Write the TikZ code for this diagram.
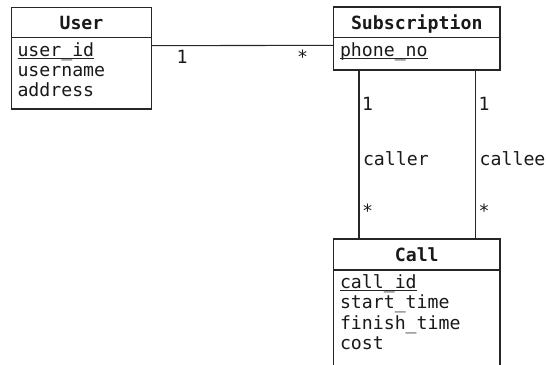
\documentclass[tikz,border=0pt]{standalone}
\usepackage{fontspec}
\setmainfont{DejaVu Sans Mono}
\setmonofont{DejaVu Sans Mono}
\begin{document}
\begin{tikzpicture}[x=1pt,y=-1pt,
  every node/.style={inner sep=0pt, outer sep=0pt, font=\fontsize{18.2}{20}\selectfont, text=black!90},
  entity/.style={draw=black!85, line width=1.1pt, anchor=north west, minimum width=166.5pt},
  title/.style={anchor=base, font=\fontsize{18.2}{20}\selectfont\bfseries},
  attr/.style={anchor=base west},
  mult/.style={anchor=base west},
  link/.style={draw=black!85, line width=1.1pt},
  keyline/.style={draw=black!85, line width=0.9pt}]
  \useasboundingbox (0,0) rectangle (546,364);
  \clip (0,0) rectangle (546,364);

  % User entity
  \node[entity, minimum width=140pt, minimum height=101.5pt] (user) at (11.5,7.5) {};
  \draw[link] ([yshift=-30.2pt]user.north west) -- ([yshift=-30.2pt]user.north east);
  \node[title] (userT) at (81.5,29.3) {User};
  \node[attr] (uid) at (17.5,56.7) {user\_id};
  \node[attr] (uname) at (17.5,76.7) {username};
  \node[attr] (uaddr) at (17.5,96.7) {address};
  \draw[keyline] ([yshift=-1.8pt]uid.base west) -- ([yshift=-1.8pt]uid.base east);

  % Subscription entity
  \node[entity, minimum height=63pt] (sub) at (333.5,7) {};
  \draw[link] ([yshift=-30.7pt]sub.north west) -- ([yshift=-30.7pt]sub.north east);
  \node[title] (subT) at (416.75,29.3) {Subscription};
  \node[attr] (phone) at (340,56.7) {phone\_no};
  \draw[keyline] ([yshift=-1.8pt]phone.base west) -- ([yshift=-1.8pt]phone.base east);

  % Call entity
  \node[entity, minimum height=140pt] (call) at (333.5,239) {};
  \draw[link] ([yshift=-31pt]call.north west) -- ([yshift=-31pt]call.north east);
  \node[title] (callT) at (416.75,261.7) {Call};
  \node[attr] (cid) at (340,288.3) {call\_id};
  \node[attr] (cstart) at (340,308.8) {start\_time};
  \node[attr] (cfin) at (340,329.3) {finish\_time};
  \node[attr] (ccost) at (340,349.8) {cost};
  \draw[keyline] ([yshift=-1.8pt]cid.base west) -- ([yshift=-1.8pt]cid.base east);

  % Associations
  \draw[link] ([yshift=-38.2pt]user.north east) -- ([yshift=-38.3pt]sub.north west);
  \draw[link] ([xshift=25.5pt]sub.south west) -- ([xshift=25.5pt]call.north west);
  \draw[link] ([xshift=-24.3pt]sub.south east) -- ([xshift=-24.3pt]call.north east);

  % Multiplicities and role names
  \node[mult] (m1) at (176.5,63.5) {1};
  \node[mult] (m2) at (297,63.5) {*};
  \node[mult] (m3) at (362,110) {1};
  \node[mult] (r1) at (363,165) {caller};
  \node[mult] (m4) at (362,217.5) {*};
  \node[mult] (m5) at (478.7,110) {1};
  \node[mult] (r2) at (479.7,165) {callee};
  \node[mult] (m6) at (478.7,217.5) {*};
\end{tikzpicture}
\end{document}
